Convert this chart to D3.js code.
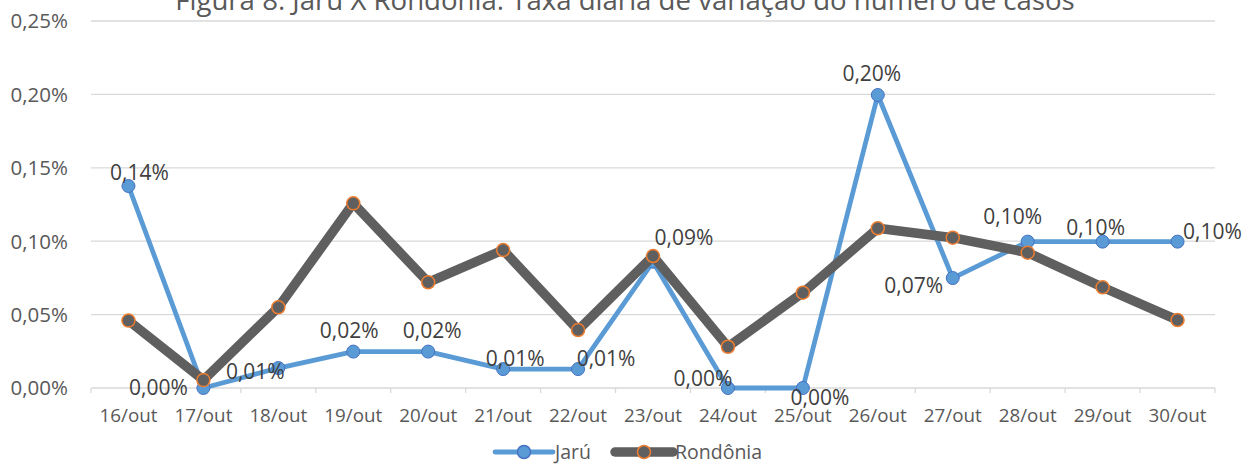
<!DOCTYPE html>
<html>
<head>
<meta charset="utf-8">
<script src="https://cdn.jsdelivr.net/npm/d3@7"></script>
<style>
  body { margin: 0; background: #fff; }
  text { font-family: "Open Sans", sans-serif; }
</style>
</head>
<body>
<svg width="1251" height="464"></svg>
<script>

// data (percent)
var days = ["16/out","17/out","18/out","19/out","20/out","21/out","22/out","23/out","24/out","25/out","26/out","27/out","28/out","29/out","30/out"];
var jaru = [0.1376, 0.0000, 0.0136, 0.0248, 0.0248, 0.0129, 0.0129, 0.0860, 0.0000, 0.0000, 0.1996, 0.0749, 0.0997, 0.0997, 0.0997];
var rondonia = [0.0459, 0.0054, 0.0550, 0.1258, 0.0720, 0.0940, 0.0395, 0.0899, 0.0281, 0.0649, 0.1088, 0.1024, 0.0922, 0.0686, 0.0463];
var yTicks = [0, 0.05, 0.10, 0.15, 0.20, 0.25];
var seriesNames = ["Jarú", "Rondônia"];
// where excel put each Jarú data label, relative to its point
var labelOffset = [[11,-14],[-45,-1],[-23,3],[-4,-21],[4,-21],[12,-11],[28,-11],[31,-24],[-25,-10],[17,9],[-6,-22],[-39,7],[-15,-25],[-7,-14],[35,-10]];

var svg = d3.select("svg");
width = +svg.attr("width"),
height = +svg.attr("height");

var x = d3.scaleBand().domain(days).range([91, 1215]);
var y = d3.scaleLinear().domain([0, 0.25]).range([388, 21]);

function fmt(v) { return v.toFixed(2).replace(".", ",") + "%"; }
function cx(i) { return x(days[i]) + x.bandwidth() / 2; }

// title, cut at the top like the original
var title = svg.append("text")
    .attr("x", 625)
    .attr("y", 10)
    .attr("text-anchor", "middle")
    .style("font-size", "24px")
    .style("fill", "#595959")
    .text("Figura 8: Jarú X Rondônia: Taxa diária de variação do número de casos");
var tw = title.node().getComputedTextLength();
title.style("font-size", (24 * 900 / tw) + "px");

// grid
svg.append("g")
   .selectAll("line")
   .data(yTicks)
   .enter().append("line")
   .attr("x1", 91).attr("x2", 1215)
   .attr("y1", function(d) { return y(d); })
   .attr("y2", function(d) { return y(d); })
   .style("stroke", "#d9d9d9")
   .style("stroke-width", "1.3px");

svg.append("g")
   .selectAll("text")
   .data(yTicks)
   .enter().append("text")
   .attr("x", 68)
   .attr("y", function(d) { return y(d); })
   .attr("dy", "0.36em")
   .attr("text-anchor", "end")
   .style("font-size", "20.5px")
   .style("fill", "#595959")
   .text(function(d) { return fmt(d); });

// category axis, ticks between categories
var xAxis = svg.append("g").attr("transform", "translate(0,388)");
xAxis.selectAll("line")
   .data(d3.range(days.length + 1))
   .enter().append("line")
   .attr("x1", function(i) { return 91 + i * x.step(); })
   .attr("x2", function(i) { return 91 + i * x.step(); })
   .attr("y1", 0).attr("y2", 5)
   .style("stroke", "#d9d9d9")
   .style("stroke-width", "1.3px");
xAxis.selectAll("text")
   .data(days)
   .enter().append("text")
   .attr("x", function(d) { return x(d) + x.bandwidth() / 2; })
   .attr("y", 34)
   .attr("text-anchor", "middle")
   .style("font-size", "18.8px")
   .style("fill", "#595959")
   .text(function(d) { return d; });

var line = d3.line()
   .x(function(d, i) { return cx(i); })
   .y(function(d) { return y(d); });

// Jarú
svg.append("path")
   .datum(jaru)
   .attr("d", line)
   .style("fill", "none")
   .style("stroke", "#5b9bd5")
   .style("stroke-width", "4.8px")
   .style("stroke-linejoin", "round");
svg.append("g")
   .selectAll("circle")
   .data(jaru)
   .enter().append("circle")
   .attr("cx", function(d, i) { return cx(i); })
   .attr("cy", function(d) { return y(d); })
   .attr("r", 6.5)
   .style("fill", "#5b9bd5")
   .style("stroke", "#4472c4")
   .style("stroke-width", "1px");

// Rondônia
svg.append("path")
   .datum(rondonia)
   .attr("d", line)
   .style("fill", "none")
   .style("stroke", "#5f5f5f")
   .style("stroke-width", "9.5px")
   .style("stroke-linejoin", "round");
svg.append("g")
   .selectAll("circle")
   .data(rondonia)
   .enter().append("circle")
   .attr("cx", function(d, i) { return cx(i); })
   .attr("cy", function(d) { return y(d); })
   .attr("r", 6.5)
   .style("fill", "#5f5f5f")
   .style("stroke", "#ed7d31")
   .style("stroke-width", "1.5px");

// data labels (Jarú only)
svg.append("g")
   .selectAll("text")
   .data(jaru)
   .enter().append("text")
   .attr("x", function(d, i) { return cx(i) + labelOffset[i][0]; })
   .attr("y", function(d, i) { return y(d) + labelOffset[i][1]; })
   .attr("dy", "0.36em")
   .attr("text-anchor", "middle")
   .style("font-size", "21px")
   .style("fill", "#404040")
   .text(function(d) { return fmt(d); });

// legend
var legend = svg.append("g").attr("transform", "translate(0,452)");
var legItems = [
  {name: seriesNames[0], x0: 495, line: "#5b9bd5", lw: 4.8, fill: "#5b9bd5", stroke: "#4472c4"},
  {name: seriesNames[1], x0: 615, line: "#5f5f5f", lw: 9.5, fill: "#5f5f5f", stroke: "#ed7d31"}
];
legItems.forEach(function(it) {
  legend.append("line")
     .attr("x1", it.x0).attr("x2", it.x0 + 58)
     .attr("y1", 0).attr("y2", 0)
     .style("stroke", it.line)
     .style("stroke-width", it.lw + "px")
     .style("stroke-linecap", "round");
  legend.append("circle")
     .attr("cx", it.x0 + 29).attr("cy", 0)
     .attr("r", 6.5)
     .style("fill", it.fill)
     .style("stroke", it.stroke)
     .style("stroke-width", "1.5px");
  legend.append("text")
     .attr("x", it.x0 + 60)
     .attr("y", 0)
     .attr("dy", "0.36em")
     .style("font-size", "19.5px")
     .style("fill", "#595959")
     .text(it.name);
});

</script>
</body>
</html>
